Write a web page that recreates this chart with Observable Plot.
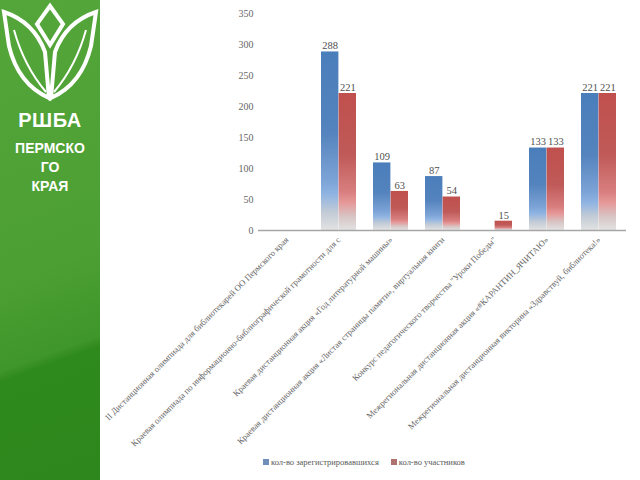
<!DOCTYPE html>
<html>
<head>
<meta charset="utf-8">
<script src="https://cdn.jsdelivr.net/npm/d3@7"></script>
<script src="https://cdn.jsdelivr.net/npm/@observablehq/plot@0.6"></script>
<style>
  html, body { margin: 0; padding: 0; background: #fff; width: 640px; height: 480px; overflow: hidden; }
  #sidebar { position: absolute; left: 0; top: 0; width: 100px; height: 480px;
    background: linear-gradient(160deg, #54a63a 0%, #4c9f33 55%, #3f962a 72%, #2f8a1e 74%, #2d871c 100%); }
  #sidebar .t1 { position: absolute; left: 0; width: 100px; top: 109px; text-align: center; color: #fff;
    font: bold 20px "Liberation Sans", Arial, sans-serif; letter-spacing: 0.5px; }
  #sidebar .t2 { position: absolute; left: 0; width: 100px; top: 139px; text-align: center; color: #fff;
    font: bold 14px/19px "Liberation Sans", Arial, sans-serif; }
  #chart { position: absolute; left: 100px; top: 0; }
  #chart svg { overflow: visible; }
  #legend { position: absolute; top: 457px; left: 263px; font: 8.5px "Liberation Serif", serif; color: #595959; white-space: nowrap; }
  #legend span.sw { display: inline-block; width: 6px; height: 6px; margin-right: 2px; vertical-align: 0px; }
</style>
</head>
<body>
<div id="sidebar">
  <svg width="100" height="105" style="position:absolute;left:0;top:0">
    <g fill="none" stroke="#fff" stroke-width="4" stroke-linejoin="miter">
      <path d="M50,6 L63,24 L50,45 L37,24 Z"/>
      <path d="M4,12 Q34,22 45,52 L49,98 Q18,84 9,46 Z"/>
      <path d="M96,12 Q66,22 55,52 L51,98 Q82,84 91,46 Z"/>
    </g>
    <g fill="none" stroke="#fff" stroke-width="2">
      <path d="M14,30 Q24,66 46,92"/>
      <path d="M86,30 Q76,66 54,92"/>
    </g>
  </svg>
  <div class="t1">РШБА</div>
  <div class="t2">ПЕРМСКО<br>ГО<br>КРАЯ</div>
</div>
<div id="chart"></div>
<div id="legend"></div>
<script>
const categories = [
  "II Дистанционная олимпиада для библиотекарей ОО Пермского края",
  "Краевая олимпиада по информационно-библиографической грамотности для с",
  "Краевая дистанционная акция «Год литературной машины»",
  "Краевая дистанционная акция «Листая страницы памяти», виртуальная книги",
  "Конкурс педагогического творчества \"Уроки Победы\"",
  "Межрегиональная дистанционная акция «#КАРАНТИН_ЯЧИТАЮ»",
  "Межрегиональная дистанционная викторина «Здравствуй, библиотека!»"
];
const registered = [0, 288, 109, 87, 0, 133, 221];
const participants = [0, 221, 63, 54, 15, 133, 221];
const seriesNames = ["кол-во зарегистрировавшихся", "кол-во участников"];
const yTicks = [0, 50, 100, 150, 200, 250, 300, 350];

const blueData = categories.map((c, i) => ({cat: c, value: registered[i]}));
const redData = categories.map((c, i) => ({cat: c, value: participants[i]}));

const W = 540, H = 455, ML = 158, MR = 14, MT = 13, MB = 225;
const pInner = 0.33, pOuter = 0.165;
const step = (W - ML - MR) / (categories.length - pInner + 2 * pOuter);
const bw = step * (1 - pInner);
const half = bw / 2;

const serif = "Liberation Serif, serif";

const plot = Plot.plot({
  width: W, height: H,
  marginLeft: ML, marginRight: MR, marginTop: MT, marginBottom: MB,
  style: {fontFamily: serif, background: "transparent", color: "#595959"},
  x: {domain: categories, paddingInner: pInner, paddingOuter: pOuter, label: null},
  y: {domain: [0, 350], label: null},
  marks: [
    Plot.axisY({ticks: yTicks, tickSize: 0, tickPadding: 5, label: null, fontSize: 10, fill: "#666666"}),
    Plot.axisX({tickRotate: -45, tickSize: 0, tickPadding: 8, label: null, fontSize: 8.7, fill: "#666666", textAnchor: "end"}),
    Plot.barY(blueData, {x: "cat", y: "value", fill: "url(#gBlue)", insetRight: half, insetLeft: 0}),
    Plot.barY(redData, {x: "cat", y: "value", fill: "url(#gRed)", insetLeft: half, insetRight: 0}),
    Plot.ruleY([0], {stroke: "#a6a6a6", strokeWidth: 1.5}),
    Plot.text(blueData.filter(d => d.value > 0), {x: "cat", y: "value", text: d => String(d.value), dx: -half / 2, dy: -6, fontSize: 10.5, fill: "#505050"}),
    Plot.text(redData.filter(d => d.value > 0), {x: "cat", y: "value", text: d => String(d.value), dx: half / 2, dy: -6, fontSize: 10.5, fill: "#505050"})
  ]
});

const ns = "http://www.w3.org/2000/svg";
const defs = document.createElementNS(ns, "defs");
function grad(id, stops) {
  const g = document.createElementNS(ns, "linearGradient");
  g.setAttribute("id", id);
  g.setAttribute("x1", "0"); g.setAttribute("y1", "0");
  g.setAttribute("x2", "0"); g.setAttribute("y2", "1");
  for (const [o, c] of stops) {
    const s = document.createElementNS(ns, "stop");
    s.setAttribute("offset", o);
    s.setAttribute("stop-color", c);
    g.appendChild(s);
  }
  defs.appendChild(g);
}
grad("gBlue", [["0", "#4a7ebb"], ["0.45", "#5483bd"], ["0.72", "#7ca3d6"], ["0.8", "#8fb4e2"], ["0.9", "#c2cbd6"], ["1", "#e2e2e2"]]);
grad("gRed", [["0", "#c0504d"], ["0.45", "#bf5a58"], ["0.72", "#d87e7f"], ["0.8", "#e69898"], ["0.9", "#d8c4c4"], ["1", "#e2e2e2"]]);
plot.insertBefore(defs, plot.firstChild);
document.getElementById("chart").appendChild(plot);

const legend = document.getElementById("legend");
const swColors = ["#6f8fba", "#b07271"];
seriesNames.forEach((n, i) => {
  const item = document.createElement("span");
  item.style.marginRight = "12px";
  const sw = document.createElement("span");
  sw.className = "sw";
  sw.style.background = swColors[i];
  item.appendChild(sw);
  item.appendChild(document.createTextNode(n));
  legend.appendChild(item);
});
</script>
</body>
</html>
